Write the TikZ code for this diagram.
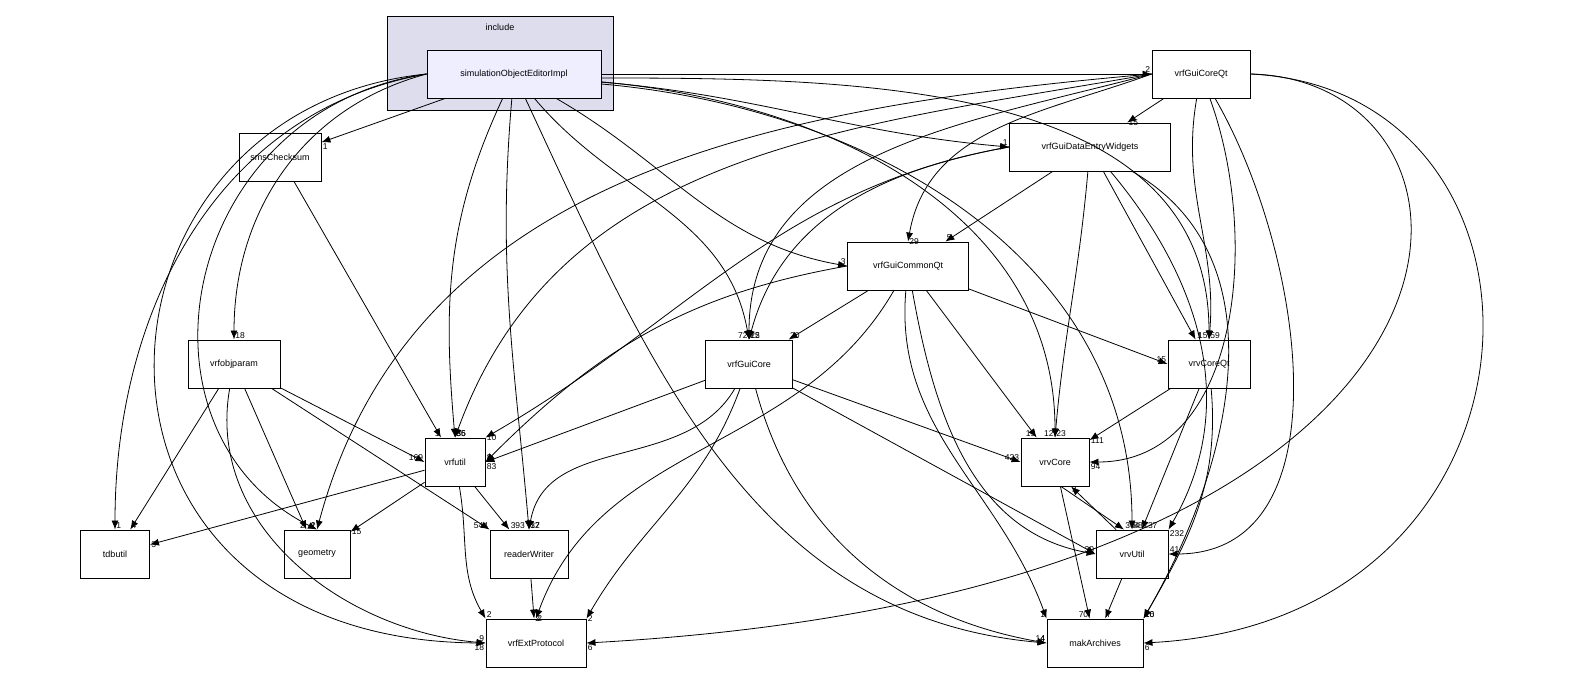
\documentclass[tikz,border=0pt]{standalone}
\usepackage{fontspec}
\setmainfont{Liberation Sans}
\usetikzlibrary{arrows.meta,positioning}
\tikzset{
  dir/.style={draw, line width=0.9pt, fill=white, minimum height=48pt, inner xsep=6pt, font=\fontsize{9}{10}\selectfont},
  dep/.style={-{Latex[length=9pt,width=7pt]}, line width=0.8pt},
  lbl/.style={font=\fontsize{8.5}{9}\selectfont, inner sep=1pt, pos=1}
}
\begin{document}
\begin{tikzpicture}[x=1pt,y=-1pt]
  \useasboundingbox (0,0) rectangle (1576,681);

  % cluster
  \draw[line width=0.9pt, fill={rgb,255:red,221;green,221;blue,238}] (387,16) rectangle (613,110);
  \node[font=\fontsize{9}{10}\selectfont] (incl) at (500,27) {include};

  % directories
  \node[dir, fill={rgb,255:red,238;green,238;blue,255}, minimum width=174pt] (sim) at (514,74) {simulationObjectEditorImpl};
  \node[dir, minimum width=98pt] (gcq) at (1201,74) {vrfGuiCoreQt};
  \node[dir, minimum width=82pt] (sms) at (280,157) {smsChecksum};
  \node[dir, minimum width=161pt] (wid) at (1090,147) {vrfGuiDataEntryWidgets};
  \node[dir, minimum width=121pt] (gcm) at (908,266) {vrfGuiCommonQt};
  \node[dir, minimum width=92pt] (obj) at (234,364) {vrfobjparam};
  \node[dir, minimum width=87pt] (gui) at (749,364) {vrfGuiCore};
  \node[dir, minimum width=82pt] (vcq) at (1209,364) {vrvCoreQt};
  \node[dir, minimum width=60pt] (utl) at (455,462) {vrfutil};
  \node[dir, minimum width=68pt] (vcr) at (1055,462) {vrvCore};
  \node[dir, minimum width=69pt] (tdb) at (115,554) {tdbutil};
  \node[dir, minimum width=66pt] (geo) at (317,554) {geometry};
  \node[dir, minimum width=78pt] (rdw) at (529,554) {readerWriter};
  \node[dir, minimum width=72pt] (vut) at (1132,554) {vrvUtil};
  \node[dir, minimum width=100pt] (ext) at (536,643) {vrfExtProtocol};
  \node[dir, minimum width=96pt] (mak) at (1095,643) {makArchives};

  % from simulationObjectEditorImpl
  \draw[dep] (sim.east) -- node[lbl, anchor=south east] {2} (gcq.west);
  \draw[dep] (sim) -- node[lbl, anchor=north west] {1} (sms);
  \draw[dep] ([yshift=-8pt]sim.east) to[out=-5,in=175] node[lbl, anchor=south east] {1} (wid.west);
  \draw[dep] (sim) to[out=-30,in=170] node[lbl, anchor=south east] {3} (gcm.west);
  \draw[dep] (sim.west) to[out=195,in=90] node[lbl, anchor=south west] {18} (obj.north);
  \draw[dep] (sim) to[out=-50,in=100] node[lbl, anchor=south west] {22} (gui.north);
  \draw[dep] ([yshift=-4pt]sim.east) to[out=0,in=90] node[lbl, anchor=south east] {15} (vcq.north);
  \draw[dep] (sim) to[out=-115,in=95] node[lbl, anchor=south west] {35} (utl.north);
  \draw[dep] ([yshift=-8pt]sim.east) to[out=-5,in=90] node[lbl, anchor=south east] {12} (vcr.north);
  \draw[dep] ([yshift=-10pt]sim.east) to[out=-5,in=90] node[lbl, anchor=south west] {88} (vut.north);
  \draw[dep] (sim) to[out=-95,in=95] node[lbl, anchor=south west] {32} (rdw.north);
  \draw[dep] (sim) to[out=-65,in=175] node[lbl, anchor=south east] {14} (mak.west);
  \draw[dep] (sim.west) to[out=190,in=90] node[lbl, anchor=south west] {1} (tdb.north);
  \draw[dep] (sim.west) .. controls (180,110) and (120,430) .. (geo.north) node[lbl, anchor=south east] {2};
  \draw[dep] (sim.west) .. controls (70,110) and (40,640) .. (ext.west) node[lbl, anchor=north east] {18};

  % from vrfGuiCoreQt
  \draw[dep] (gcq) -- node[lbl, anchor=west] {15} (wid);
  \draw[dep] (gcq.west) to[out=-160,in=80] node[lbl, anchor=west] {29} (gcm.north);
  \draw[dep] (gcq.west) to[out=-165,in=90] node[lbl, anchor=south east] {72} (gui.north);
  \draw[dep] (gcq.west) to[out=-170,in=70] node[lbl, anchor=south west] {36} (utl.north);
  \draw[dep] (gcq.west) to[out=-175,in=75] node[lbl, anchor=south east] {1} (geo.north);
  \draw[dep] (gcq) to[out=-100,in=85] node[lbl, anchor=south west] {59} (vcq.north);
  \draw[dep] (gcq) to[out=-70,in=0] node[lbl, anchor=north west] {94} (vcr.east);
  \draw[dep] (gcq) to[out=-60,in=0] node[lbl, anchor=south west] {41} (vut.east);
  \draw[dep] (gcq.east) .. controls (1520,80) and (1540,590) .. (ext.east) node[lbl, anchor=north west] {6};
  \draw[dep] (gcq.east) .. controls (1580,90) and (1570,620) .. (mak.east) node[lbl, anchor=north west] {6};

  % from vrfGuiDataEntryWidgets
  \draw[dep] (wid) -- node[lbl, anchor=south west] {5} (gcm);
  \draw[dep] (wid.west) to[out=-170,in=75] node[lbl, anchor=south west] {15} (gui.north);
  \draw[dep] (wid.west) to[out=-170,in=30] node[lbl, anchor=west] {10} (utl.north east);
  \draw[dep] (wid) to[out=-95,in=85] node[lbl, anchor=south west] {23} (vcr.north);
  \draw[dep] (wid) -- node[lbl, anchor=south west] {1} (vcq);
  \draw[dep] (wid) to[out=-50,in=60] node[lbl, anchor=north west] {232} (vut.north east);
  \draw[dep] (wid) to[out=-30,in=60] node[lbl, anchor=south west] {16} (mak.north east);

  % from vrfGuiCommonQt
  \draw[dep] (gcm) -- node[lbl, anchor=south west] {20} (gui);
  \draw[dep] (gcm.west) to[out=-170,in=45] node[lbl, anchor=south west] {8} (utl.east);
  \draw[dep] (gcm) -- node[lbl, anchor=south east] {15} (vcq.west);
  \draw[dep] (gcm) -- node[lbl, anchor=south east] {19} (vcr);
  \draw[dep] (gcm) to[out=-80,in=170] node[lbl, anchor=south east] {30} (vut.west);
  \draw[dep] (gcm) to[out=-95,in=110] node[lbl, anchor=south east] {1} (mak.north west);
  \draw[dep] (gcm) to[out=-120,in=70] node[lbl, anchor=west] {2} (ext.north);

  % from vrfobjparam
  \draw[dep] (obj) -- node[lbl, anchor=south east] {169} (utl.west);
  \draw[dep] (obj) -- node[lbl, anchor=south west] {4} (tdb);
  \draw[dep] (obj) -- node[lbl, anchor=south east] {2} (geo);
  \draw[dep] (obj) -- node[lbl, anchor=south east] {544} (rdw.north west);
  \draw[dep] (obj) to[out=-100,in=175] node[lbl, anchor=south east] {9} (ext.west);

  % from vrfGuiCore
  \draw[dep] (gui) -- node[lbl, anchor=north west] {83} (utl.east);
  \draw[dep] (gui) -- node[lbl, anchor=south east] {423} (vcr.west);
  \draw[dep] (gui) to[out=-120,in=80] node[lbl, anchor=south west] {17} (rdw.north);
  \draw[dep] (gui) to[out=-110,in=60] node[lbl, anchor=west] {2} (ext.north east);
  \draw[dep] (gui) to[out=-75,in=170] node[lbl, anchor=south east] {4} (mak.west);
  \draw[dep] (gui) -- (vut.west);

  % others
  \draw[dep] (sms) -- node[lbl, anchor=south east] {1} (utl);
  \draw[dep] (vcq) -- node[lbl, anchor=west] {111} (vcr);
  \draw[dep] (vcq) -- node[lbl, anchor=south west] {137} (vut);
  \draw[dep] (vcq) to[out=-85,in=60] node[lbl, anchor=south west] {10} (mak.north east);
  \draw[dep] (utl) -- node[lbl, anchor=west] {3} (tdb);
  \draw[dep] (utl) -- node[lbl, anchor=west] {15} (geo);
  \draw[dep] (utl) -- node[lbl, anchor=south west] {393} (rdw);
  \draw[dep] (utl) to[out=-80,in=120] node[lbl, anchor=south west] {2} (ext.north west);
  \draw[dep] ([xshift=6pt]vcr.south) -- node[lbl, anchor=south west] {364} ([xshift=-8pt]vut.north);
  \draw[dep] ([xshift=-16pt]vut.north) -- node[lbl, anchor=north west] {4} ([xshift=16pt]vcr.south);
  \draw[dep] (vcr) -- node[lbl, anchor=south east] {70} (mak);
  \draw[dep] (vut) -- node[lbl, anchor=south west] {7} (mak);
  \draw[dep] (rdw) -- node[lbl, anchor=west] {2} (ext);
\end{tikzpicture}
\end{document}
